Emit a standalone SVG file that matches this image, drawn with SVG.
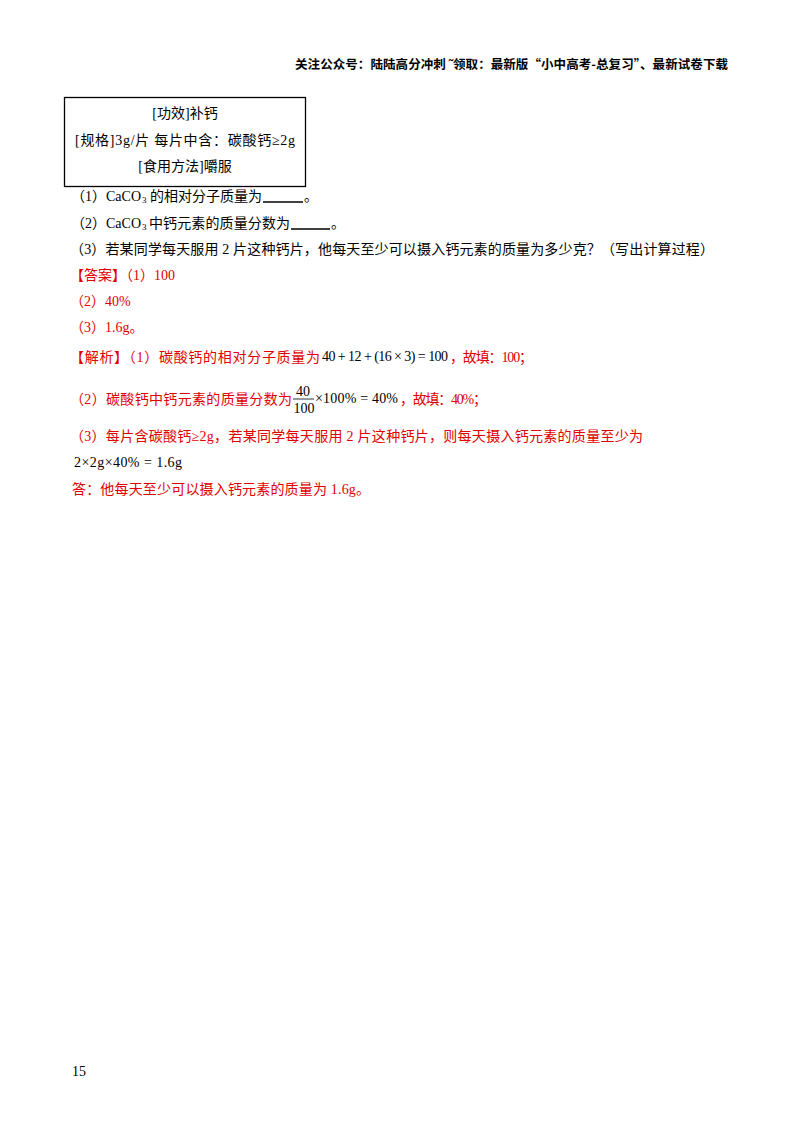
<svg xmlns="http://www.w3.org/2000/svg" width="800" height="1132" viewBox="0 0 800 1132">
<style>
text{font-family:"Liberation Serif","Noto Sans CJK SC",serif;font-size:14px;fill:#000}
.r{fill:#e00000}
.h{font-family:"Noto Sans CJK SC",sans-serif;font-size:12.5px;font-weight:bold}
.s{font-size:9px}
</style>
<rect width="800" height="1132" fill="#fff"/>
<text class="h" x="295" y="69" textLength="433" lengthAdjust="spacing">关注公众号：陆陆高分冲刺  ˜领取：最新版“小中高考-总复习”、最新试卷下载</text>
<g id="box">
<rect x="64.5" y="97.5" width="241" height="89" fill="none" stroke="#000" stroke-width="1.3"/>
<text x="185" y="118" text-anchor="middle">[功效]补钙</text>
<text x="75" y="145" textLength="220" lengthAdjust="spacing">[规格]3g/片  每片中含：碳酸钙≥2g</text>
<text x="185" y="171" text-anchor="middle">[食用方法]嚼服</text>
</g>
<g id="questions">
<text x="141" y="201" text-anchor="end">（1）CaCO</text>
<text class="s" x="142" y="203">3</text>
<text x="150" y="201" textLength="112" lengthAdjust="spacing">的相对分子质量为</text>
<line x1="263" y1="202" x2="303" y2="202" stroke="#000" stroke-width="1.5"/>
<text x="304" y="201">。</text>
<text x="141" y="228" text-anchor="end">（2）CaCO</text>
<text class="s" x="142" y="230">3</text>
<text x="149" y="228" textLength="141" lengthAdjust="spacing">中钙元素的质量分数为</text>
<line x1="291" y1="229" x2="330" y2="229" stroke="#000" stroke-width="1.5"/>
<text x="331" y="228">。</text>
<text x="70" y="254" textLength="644" lengthAdjust="spacing">（3）若某同学每天服用 2 片这种钙片，他每天至少可以摄入钙元素的质量为多少克？（写出计算过程）</text>
</g>
<g id="answer">
<text class="r" x="70" y="280">【答案】（1）100</text>
<text class="r" x="70" y="306">（2）40%</text>
<text class="r" x="70" y="332">（3）1.6g。</text>
<text class="r" x="70" y="362" textLength="250" lengthAdjust="spacing">【解析】（1）碳酸钙的相对分子质量为</text>
<text x="322" y="361" font-size="15" textLength="126" lengthAdjust="spacing">40 + 12 + (16 × 3) = 100</text>
<text class="r" x="450" y="362" textLength="83" lengthAdjust="spacing">，故填：100；</text>
<text class="r" x="70" y="404" textLength="222" lengthAdjust="spacing">（2）碳酸钙中钙元素的质量分数为</text>
<text x="303" y="396" text-anchor="middle">40</text>
<line x1="293" y1="399" x2="314" y2="399" stroke="#000" stroke-width="0.8"/>
<text x="304" y="413" text-anchor="middle">100</text>
<text x="315" y="403" textLength="83" lengthAdjust="spacing">×100% = 40%</text>
<text class="r" x="400" y="404" textLength="87" lengthAdjust="spacing">，故填：40%；</text>
<text class="r" x="70" y="441" textLength="573" lengthAdjust="spacing">（3）每片含碳酸钙≥2g，若某同学每天服用 2 片这种钙片，则每天摄入钙元素的质量至少为</text>
<text x="74" y="467" textLength="108" lengthAdjust="spacing">2×2g×40% = 1.6g</text>
<text class="r" x="72" y="494" textLength="298" lengthAdjust="spacing">答：他每天至少可以摄入钙元素的质量为 1.6g。</text>
</g>
<text x="72" y="1076">15</text>
</svg>
